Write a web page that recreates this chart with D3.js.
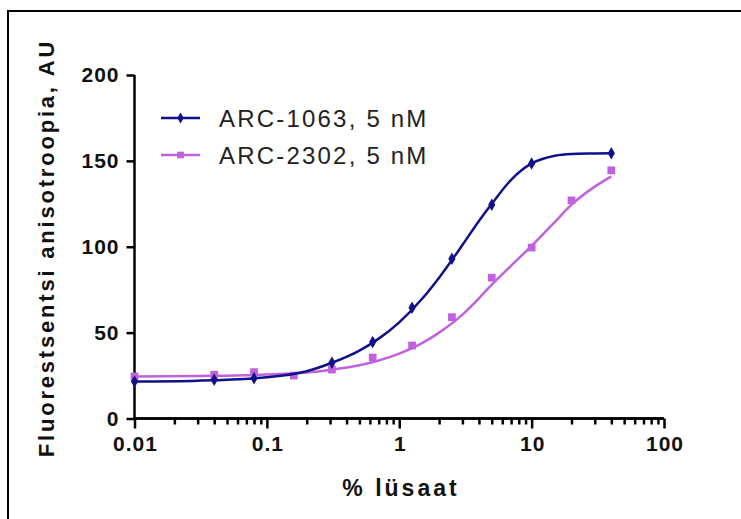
<!DOCTYPE html>
<html>
<head>
<meta charset="utf-8">
<script src="https://cdn.jsdelivr.net/npm/d3@7"></script>
<style>
  body { margin: 0; background: #fff; }
  text { font-family: "Liberation Sans", Arial, sans-serif; }
</style>
</head>
<body>
<div id="graph"></div>
<script>
// measured points (% lysate vs anisotropy)
const conc_1063 = [0.01, 0.04, 0.08, 0.31, 0.63, 1.25, 2.5, 5, 10, 40];
const anis_1063 = [21.5, 22.5, 23.5, 32.5, 44.5, 64.5, 93, 124.5, 148.5, 154.5];

const conc_2302 = [0.01, 0.04, 0.08, 0.16, 0.31, 0.63, 1.25, 2.5, 5, 10, 20, 40];
const anis_2302 = [24.5, 25.5, 27, 25, 28.5, 35.5, 42.5, 59, 82, 99.5, 127, 144.5];

// fitted curves
const fitX = [0.01, 0.03, 0.1, 0.2, 0.3, 0.5, 0.7, 1, 1.5, 2, 3, 4, 5, 7, 10, 15, 20, 30, 40];
const fit_1063 = [21.5, 22, 24, 27.5, 32, 39.5, 46.5, 56, 70, 82, 101, 115, 125, 139, 148.5, 153, 154, 154.3, 154.5];
const fit_2302 = [24.5, 24.8, 25.6, 26.8, 28.3, 31, 33.8, 37.8, 44, 50, 60.5, 70, 78, 89, 100.5, 114.5, 124.5, 135, 141];

const seriesNames = ["ARC-1063, 5 nM", "ARC-2302, 5 nM"];
const xTicks = [0.01, 0.1, 1, 10, 100];
const yTicks = [0, 50, 100, 150, 200];

const width = 741, height = 519;
const navy = "#10108a", violet = "#c062dd";

let svg = d3.select("#graph")
    .append("svg")
    .attr("width", width)
    .attr("height", height);

svg.append("rect").attr("width", width).attr("height", height).attr("fill", "#fff");

// frame, only top and left edges show
svg.append("path")
    .attr("d", `M8,${height} V11 H${width}`)
    .attr("fill", "none")
    .attr("stroke", "#000")
    .attr("stroke-width", 2);

let x = d3.scaleLog().domain([0.01, 100]).range([134.5, 664]);
let y = d3.scaleLinear().domain([0, 200]).range([418.5, 75]);

// x axis with minor ticks
let minor = [];
for (let d = 0.01; d < 100; d *= 10) {
    for (let k = 2; k < 10; k++) minor.push(+(d * k).toPrecision(3));
}

let xAxisG = svg.append("g").attr("transform", "translate(0,418.5)");
xAxisG.call(d3.axisBottom(x).tickValues(minor).tickSize(6).tickFormat(""));
xAxisG.append("g").call(d3.axisBottom(x).tickValues(xTicks).tickSize(10).tickPadding(8)
    .tickFormat(d => d < 1 ? String(d) : d3.format("d")(d)));
xAxisG.selectAll("path.domain").attr("stroke-width", 2.5).attr("d", `M${x(0.01)},0H${x(100)}`);
xAxisG.selectAll("line").attr("stroke-width", 2.5);
xAxisG.selectAll("text")
    .attr("fill", "#111")
    .attr("dx", "0.5px")
    .style("font-size", "21px")
    .style("font-weight", "bold")
    .style("letter-spacing", "1px");

let yAxisG = svg.append("g").attr("transform", "translate(134.5,0)");
yAxisG.call(d3.axisLeft(y).tickValues(yTicks).tickSize(8).tickPadding(7));
yAxisG.select("path.domain").attr("stroke-width", 2.5).attr("d", `M0,${y(0)}V${y(200)}`);
yAxisG.selectAll("line").attr("stroke-width", 2.5);
yAxisG.selectAll("text")
    .attr("fill", "#111")
    .style("font-size", "21px")
    .style("font-weight", "bold")
    .style("letter-spacing", "1px");

// axis titles
svg.append("text")
    .attr("x", 401)
    .attr("y", 496)
    .style("text-anchor", "middle")
    .style("font-size", "23px")
    .style("font-weight", "bold")
    .style("letter-spacing", "3px")
    .attr("fill", "#111")
    .text("% lüsaat");

svg.append("text")
    .attr("transform", "translate(54,248) rotate(-90)")
    .style("text-anchor", "middle")
    .style("font-size", "22px")
    .style("font-weight", "bold")
    .style("letter-spacing", "2.8px")
    .attr("fill", "#111")
    .text("Fluorestsentsi anisotroopia, AU");

let line = d3.line()
    .x(d => x(d[0]))
    .y(d => y(d[1]))
    .curve(d3.curveMonotoneX);

let series = [
    {name: seriesNames[0], color: navy, shape: d3.symbolDiamond, fit: d3.zip(fitX, fit_1063), pts: d3.zip(conc_1063, anis_1063)},
    {name: seriesNames[1], color: violet, shape: d3.symbolSquare, fit: d3.zip(fitX, fit_2302), pts: d3.zip(conc_2302, anis_2302)}
];

// draw violet first so navy sits on top at the low end
series.slice().reverse().forEach(function(s) {
    svg.append("path")
        .attr("d", line(s.fit))
        .attr("fill", "none")
        .attr("stroke", s.color)
        .attr("stroke-width", 2.5);

    svg.selectAll(null).data(s.pts).enter()
        .append("path")
        .attr("transform", d => `translate(${x(d[0])},${y(d[1])})`)
        .attr("d", d3.symbol().type(s.shape).size(s.shape === d3.symbolSquare ? 60 : 45))
        .attr("fill", s.color);
});

// legend
let legend = svg.append("g");
series.forEach(function(s, i) {
    let ly = 118 + i * 37;
    legend.append("line")
        .attr("x1", 161).attr("x2", 200)
        .attr("y1", ly).attr("y2", ly)
        .attr("stroke", s.color)
        .attr("stroke-width", 2.5);
    legend.append("path")
        .attr("transform", `translate(180.5,${ly})`)
        .attr("d", d3.symbol().type(s.shape).size(s.shape === d3.symbolSquare ? 45 : 35))
        .attr("fill", s.color);
    legend.append("text")
        .attr("x", 219)
        .attr("y", ly + 9)
        .style("font-size", "24px")
        .style("letter-spacing", "2.2px")
        .attr("fill", "#222")
        .text(s.name);
});
</script>
</body>
</html>
